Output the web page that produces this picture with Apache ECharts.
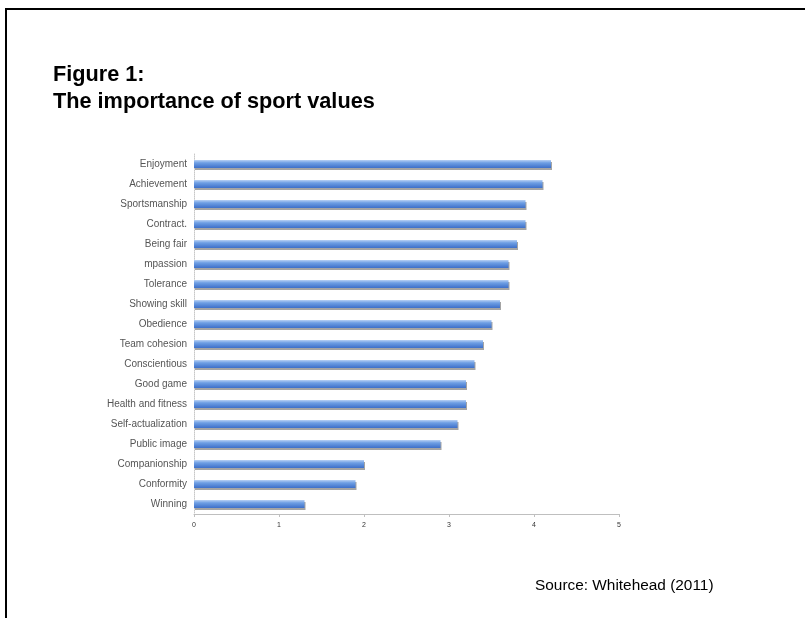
<!DOCTYPE html>
<html>
<head>
<meta charset="utf-8">
<script src="https://cdn.jsdelivr.net/npm/echarts@6/dist/echarts.min.js"></script>
<style>
  html, body { margin: 0; padding: 0; background: #fff; }
  #chart { width: 805px; height: 618px; }
</style>
</head>
<body>
<div id="chart"></div>
<script>
// categories top to bottom, as shown in the figure
const categories = [
  "Enjoyment", "Achievement", "Sportsmanship", "Contract.", "Being fair",
  "mpassion", "Tolerance", "Showing skill", "Obedience", "Team cohesion",
  "Conscientious", "Good game", "Health and fitness", "Self-actualization",
  "Public image", "Companionship", "Conformity", "Winning"
];
const importance = [
  4.2, 4.1, 3.9, 3.9, 3.8, 3.7, 3.7, 3.6, 3.5, 3.4,
  3.3, 3.2, 3.2, 3.1, 2.9, 2.0, 1.9, 1.3
];
const xTicks = [0, 1, 2, 3, 4, 5];

const titleText = "Figure 1:\nThe importance of sport values";
const sourceText = "Source: Whitehead (2011)";

const barGradient = new echarts.graphic.LinearGradient(0, 0, 0, 1, [
  { offset: 0, color: "#b9d1f3" },
  { offset: 0.35, color: "#6f9fe4" },
  { offset: 1, color: "#3d6fc8" }
]);

const option = {
  animation: false,
  backgroundColor: "#fff",
  title: {
    text: titleText,
    left: 53,
    top: 62,
    padding: 0,
    textStyle: {
      fontFamily: "Liberation Sans",
      fontSize: 21.7,
      fontWeight: "bold",
      lineHeight: 27,
      color: "#000"
    }
  },
  grid: { left: 194, right: 186, top: 154, bottom: 104 },
  xAxis: {
    type: "value",
    min: xTicks[0],
    max: xTicks[xTicks.length - 1],
    interval: 1,
    splitLine: { show: false },
    axisLine: { show: true, lineStyle: { color: "#bfbfbf", width: 1 } },
    axisTick: { show: true, length: 3, lineStyle: { color: "#bfbfbf" } },
    axisLabel: {
      fontFamily: "Liberation Sans",
      fontSize: 7,
      color: "#333",
      margin: 8
    }
  },
  yAxis: {
    type: "category",
    data: categories,
    inverse: true,
    axisLine: { show: true, lineStyle: { color: "#c8c8c8", type: "dotted", width: 1 } },
    axisTick: { show: false },
    axisLabel: {
      fontFamily: "Liberation Sans",
      fontSize: 10,
      color: "#555",
      margin: 7
    }
  },
  series: [{
    type: "bar",
    data: importance,
    barWidth: 8,
    itemStyle: {
      color: barGradient,
      shadowColor: "rgba(90,90,90,0.55)",
      shadowOffsetY: 2,
      shadowOffsetX: 1,
      shadowBlur: 0
    }
  }],
  graphic: [
    {
      type: "line",
      shape: { x1: 5, y1: 9, x2: 805, y2: 9 },
      style: { stroke: "#000", lineWidth: 2 }
    },
    {
      type: "line",
      shape: { x1: 6, y1: 8, x2: 6, y2: 618 },
      style: { stroke: "#000", lineWidth: 2 }
    },
    {
      type: "text",
      left: 535,
      top: 578,
      style: {
        text: sourceText,
        fontFamily: "Liberation Sans",
        fontSize: 15.4,
        fill: "#000"
      }
    }
  ]
};

const chart = echarts.init(document.getElementById("chart"), null, { renderer: "canvas" });
chart.setOption(option, true);
window.onresize = function () {
  chart.resize();
};
</script>
</body>
</html>
